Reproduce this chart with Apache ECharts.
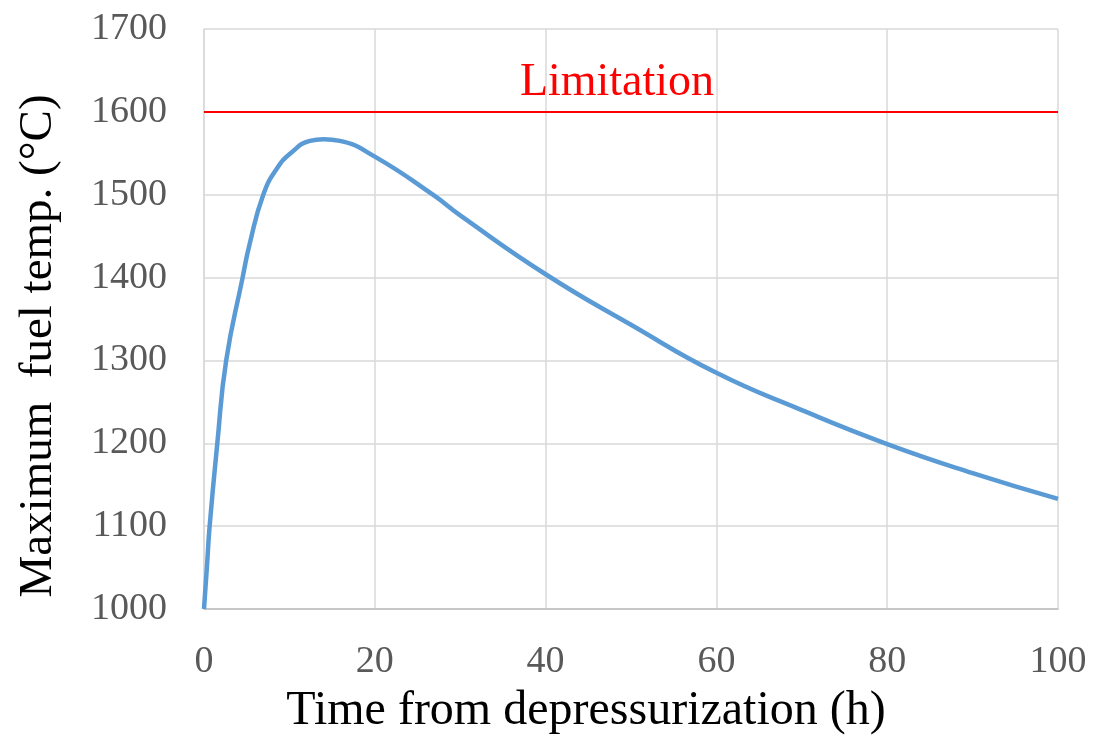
<!DOCTYPE html>
<html>
<head>
<meta charset="utf-8">
<script src="https://cdn.jsdelivr.net/npm/echarts@6/dist/echarts.min.js"></script>
<style>html,body{margin:0;padding:0;background:#fff}#c{width:1099px;height:740px}</style>
</head>
<body>
<div id="c"></div>
<script>
const timeH = [0, 0.35, 0.66, 1.56, 2.6, 4.52, 5.38, 6.94, 8.5, 10.25, 12.4, 14, 15.9, 20, 26.8, 30, 40, 50, 60, 70, 80, 90, 100];
const maxFuelTemp = [1000, 1052, 1100, 1200, 1300, 1400, 1442, 1500, 1531, 1551, 1565, 1567, 1565, 1546, 1500, 1475, 1404, 1343, 1285, 1240, 1199, 1164, 1133];
const limitValue = 1600;
const limitLabel = 'Limitation';
const xTicks = [0, 20, 40, 60, 80, 100];
const yTicks = [1000, 1100, 1200, 1300, 1400, 1500, 1600, 1700];
const xName = 'Time from depressurization (h)';
const yName = 'Maximum  fuel temp. (°C)';

const chart = echarts.init(document.getElementById('c'), null, {renderer: 'canvas'});
const font = 'Liberation Serif, Times New Roman, serif';
chart.setOption({
  animation: false,
  grid: {left: 204, right: 41, top: 29, bottom: 130, containLabel: false},
  xAxis: {
    type: 'value', min: xTicks[0], max: xTicks[xTicks.length - 1], interval: 20,
    name: xName, nameLocation: 'middle', nameGap: 78,
    nameTextStyle: {fontFamily: font, fontSize: 48, color: '#000', padding: [0, 90, 0, 0]},
    axisLine: {show: true, lineStyle: {color: '#BFBFBF', width: 1.5}},
    axisTick: {show: false},
    axisLabel: {fontFamily: font, fontSize: 38, color: '#595959', margin: 34, formatter: v => String(v)},
    splitLine: {show: true, lineStyle: {color: '#D9D9D9', width: 1.5}}
  },
  yAxis: {
    type: 'value', min: yTicks[0], max: yTicks[yTicks.length - 1], interval: 100,
    name: yName, nameLocation: 'middle', nameGap: 142, nameRotate: 90,
    nameTextStyle: {fontFamily: font, fontSize: 47, color: '#000', padding: [0, 54, 0, 0]},
    axisLine: {show: true, lineStyle: {color: '#D9D9D9', width: 1.5}},
    axisTick: {show: false},
    axisLabel: {fontFamily: font, fontSize: 38, color: '#595959', margin: 37, formatter: v => String(v)},
    splitLine: {show: true, lineStyle: {color: '#D9D9D9', width: 1.5}}
  },
  series: [
    {
      type: 'line', data: timeH.map((t, i) => [t, maxFuelTemp[i]]),
      smooth: 0.5, showSymbol: false,
      lineStyle: {color: '#5B9BD5', width: 4.5},
      z: 3
    },
    {
      type: 'line', data: [],
      markLine: {
        silent: true, symbol: 'none',
        lineStyle: {color: '#FF0000', width: 2, type: 'solid'},
        label: {show: true, formatter: limitLabel, position: 'insideMiddleTop',
          fontFamily: font, fontSize: 46, color: '#FF0000', distance: 6, offset: [-14, 0]},
        data: [{yAxis: limitValue}]
      },
      z: 4
    }
  ]
});
</script>
</body>
</html>
